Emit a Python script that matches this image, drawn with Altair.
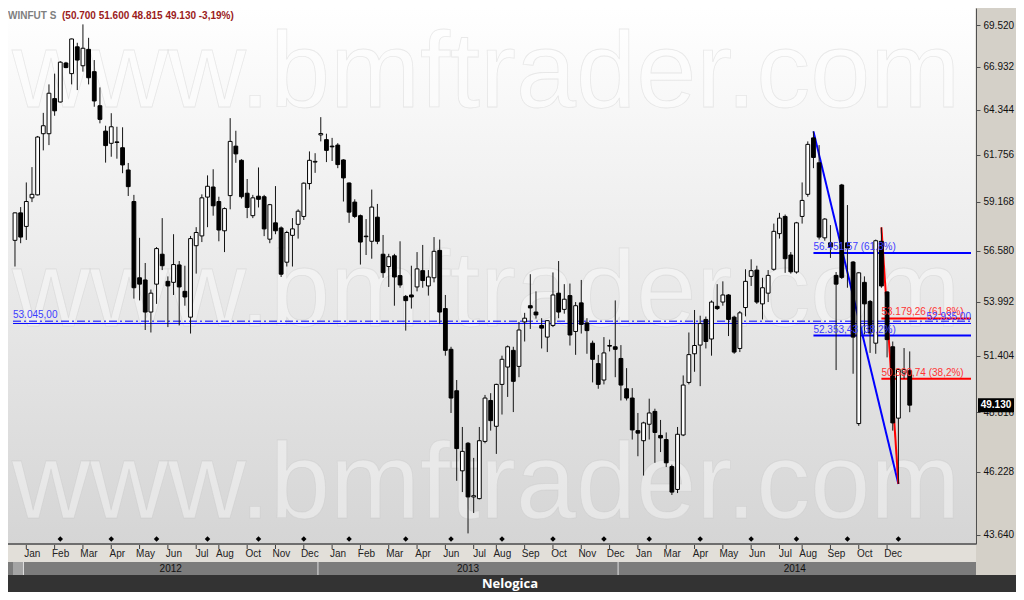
import altair as alt
import pandas as pd

# ---------------- weekly candles (WINFUT, points) ----------------
opens = [57110, 58560, 57840, 59370, 59530, 62950, 62950, 65000, 64800, 67150,
         66500, 68150, 66980, 67990, 66620, 64580, 63100, 62400, 62480, 62150,
         60900, 59170, 55190, 55080, 53490, 54870, 56390, 55010, 54960, 55840,
         54510, 53240, 56830, 57340, 59410, 59960, 59170, 57610, 59490, 62240,
         61440, 59620, 58410, 59460, 59430, 57170, 58030, 57760, 55980, 57370,
         57950, 58370, 60150, 61340, 62880, 62610, 62240, 62300, 61460, 60180,
         59140, 58410, 57330, 57060, 58330, 56390, 55760, 56310, 55300, 54260,
         54330, 54730, 55550, 54780, 55190, 56590, 53660, 51700, 49780, 46270,
         47450, 45180, 45110, 47530, 49340, 48190, 50070, 50870, 51650, 50900,
         53010, 53800, 53490, 52840, 52280, 52840, 54420, 53620, 54300, 52550,
         53940, 52960, 51990, 51030, 50270, 51880, 51820, 51270, 49870, 49450,
         48000, 47560, 48280, 48850, 47790, 47610, 46450, 45490, 47810, 50160,
         51490, 51900, 53130, 52190, 53770, 53980, 54330, 53240, 51740, 53710,
         55260, 55580, 53890, 54420, 55620, 57460, 58370, 56350, 55480, 58370,
         59560, 62710, 61300, 57240, 56980, 55310, 60070, 56980, 55990, 48310,
         54960, 54010, 51990, 57060, 54480, 51820, 48550, 50590, 50700]
highs = [58580, 58870, 60210, 61060, 62820, 64160, 65850, 66500, 67260, 67220,
         68660, 68400, 69560, 68710, 67330, 65670, 63410, 64140, 63350, 63320,
         61290, 59530, 57240, 55940, 54600, 56760, 58280, 55260, 57430, 56040,
         55800, 57340, 57800, 59560, 60600, 60940, 59430, 58850, 63850, 63120,
         61500, 60400, 59530, 61040, 59530, 59040, 60010, 57840, 57610, 58280,
         58750, 60210, 61940, 61840, 63910, 62950, 62710, 62410, 61500, 60210,
         59290, 58470, 58230, 59820, 59040, 57390, 56410, 56410, 57060, 54330,
         55800, 56500, 56870, 55580, 57280, 57150, 54330, 51820, 50270, 48160,
         47500, 46820, 48160, 49590, 49670, 50100, 51400, 51880, 51820, 53010,
         53450, 55370, 54510, 53190, 53100, 55460, 56040, 54870, 54900, 53980,
         55080, 53190, 52110, 51440, 52280, 52160, 54060, 51900, 50820, 49900,
         48780, 48390, 49420, 48970, 48470, 47920, 46530, 48160, 50480, 52500,
         53590, 53310, 53270, 54060, 54870, 55010, 54370, 53310, 53540, 55620,
         56130, 55800, 55190, 55580, 57990, 58560, 58470, 56500, 58080, 60210,
         62510, 63085, 62300, 58280, 57910, 55480, 60130, 58980, 56040, 55480,
         55260, 54080, 57150, 57790, 54510, 52070, 50780, 51760, 51600]
lows = [55760, 56960, 57130, 59140, 59500, 62000, 62300, 63990, 64770, 66830,
        65850, 65510, 66620, 65850, 64520, 63550, 61310, 61640, 61530, 60720,
        59470, 54150, 54060, 52620, 52500, 53890, 55580, 52760, 54330, 52840,
        53800, 52450, 55400, 57020, 57800, 58410, 57060, 56500, 58750, 61300,
        59330, 58280, 58280, 58850, 57330, 56960, 57430, 55230, 55760, 55760,
        57200, 58180, 59820, 60740, 62510, 61340, 61400, 61000, 59170, 58030,
        58280, 55860, 56350, 56160, 56910, 55190, 54730, 53800, 54690, 52590,
        53660, 54510, 54690, 54300, 54960, 52930, 51400, 48780, 45850, 45380,
        43700, 44520, 45080, 47450, 48000, 46990, 48710, 49500, 48820, 50400,
        52070, 52670, 53170, 51740, 51570, 52760, 53190, 53410, 51880, 51440,
        52450, 51490, 50160, 49870, 50070, 51600, 50400, 49340, 49340, 47610,
        46890, 46070, 47610, 46610, 47070, 46430, 45260, 45340, 47760, 50070,
        50650, 49990, 51740, 51400, 53590, 53800, 52330, 51490, 51570, 53280,
        54780, 53890, 53130, 53980, 55550, 57200, 55440, 55400, 55400, 57990,
        59430, 61000, 57150, 57090, 56200, 50730, 55130, 54690, 50560, 48210,
        52410, 51530, 51490, 54690, 51320, 48000, 45720, 50320, 48815]
closes = [58560, 57280, 59170, 59560, 62760, 63410, 65320, 64280, 67200, 66870,
          68640, 67330, 68060, 66250, 64860, 63780, 62270, 63350, 62450, 61180,
          59980, 54690, 54870, 53490, 54420, 56680, 55800, 54780, 55860, 54730,
          54230, 57200, 57520, 59370, 60000, 58940, 57650, 58790, 62510, 61800,
          59430, 58850, 59370, 59290, 57710, 59000, 57610, 55370, 57520, 57710,
          58650, 60170, 61440, 61380, 62960, 62000, 62200, 61200, 60460, 58600,
          58370, 57020, 57300, 58870, 57060, 55450, 56260, 55230, 54830, 54050,
          54230, 55640, 55050, 55230, 56540, 53490, 51650, 49450, 47220, 47100,
          45180, 45230, 47560, 49450, 48440, 50070, 51230, 51820, 50210, 52620,
          53190, 53690, 53350, 52710, 53070, 54330, 53490, 54120, 52380, 53800,
          52890, 52590, 51230, 50070, 51530, 51850, 51700, 50040, 49450, 48030,
          47890, 48340, 48780, 47920, 47680, 46610, 45380, 47840, 50040, 51450,
          51880, 52930, 52070, 53980, 53660, 54330, 53130, 51570, 53450, 55010,
          55550, 53980, 54690, 55310, 57580, 58280, 56160, 55490, 58030, 59230,
          62340, 61600, 57280, 58230, 56770, 54870, 55210, 56710, 52280, 55440,
          53890, 52480, 57090, 54780, 52160, 48340, 50760, 50750, 49130]

# ---------------- axes / annotations ----------------
price_ticks = [43640, 46228, 48816, 51404, 53992, 56580, 59168, 61756, 64344, 66932, 69520]
month_tick_idx = [2, 7, 12, 17, 22, 27, 32, 36, 41, 46, 51, 56, 61, 66, 71, 76,
                  81, 85, 90, 95, 100, 105, 110, 115, 120, 125, 130, 135, 139, 144, 149, 154]
month_names = ["Jan", "Feb", "Mar", "Apr", "May", "Jun", "Jul", "Aug", "Oct", "Nov", "Dec",
               "Jan", "Feb", "Mar", "Apr", "Jun", "Jul", "Aug", "Sep", "Oct", "Nov", "Dec",
               "Jan", "Mar", "Apr", "May", "Jun", "Jul", "Aug", "Sep", "Oct", "Dec"]
year_div_idx = [1.5, 53.5, 106.5]
year_names = ["2012", "2013", "2014"]
year_center_idx = [27.5, 80.0, 137.7]
expiry_idx = [8, 17, 25, 34, 43, 51, 59, 69, 77, 86, 95, 104, 112, 121, 130, 138, 147, 156]

hline_prices = [53045.00, 52935.00]
hline_texts = ["53.045,00", "52.935,00"]
fib_levels = [56451.57, 52353.43, 53179.26, 50330.74]
fib_start_idx = [141, 141, 153, 153]
fib_colors = ["#0000ff", "#0000ff", "#ff0000", "#ff0000"]
fib_text_colors = ["#3c3cff", "#3c3cff", "#ff3434", "#ff3434"]
fib_texts = ["56.451,57 (61,8%)", "52.353,43 (38,2%)", "53.179,26 (61,8%)", "50.330,74 (38,2%)"]
trend_from_idx = [141, 153]
trend_from_price = [63085, 57790]
trend_to_idx = [156, 156]
trend_to_price = [45720, 45720]
trend_colors = ["#0000ff", "#ff0000"]
last_price = 49130
last_text = "49.130"

# ---------------- layout ----------------
W, H = 968, 584
PLOT_H = 536
X_DOM = [-0.35, 168.82]
Y_DOM = [43279, 70608]
FONT = "Liberation Sans"

xs = alt.Scale(domain=X_DOM, nice=False, zero=False)
ys = alt.Scale(type="log", domain=Y_DOM, range=[PLOT_H, 0], nice=False)
yaxis = alt.Axis(orient="right", values=price_ticks,
                 labelExpr="replace(format(datum.value, ',.0f'), ',', '.')",
                 title=None, grid=False, tickSize=4, labelPadding=3,
                 domainColor="#505050", tickColor="#505050", labelColor="#111111",
                 labelFontSize=10, labelFont=FONT, labelOverlap=False, zindex=0)


def X(f):
    return alt.X(f, type="quantitative", scale=xs, axis=None)


def Y(f):
    return alt.Y(f, type="quantitative", scale=ys, axis=yaxis)


one = pd.DataFrame({"k": [0]})


def box(x0, x1, y0, y1, fill):
    return alt.Chart(one).mark_rect(fill=fill).encode(
        x=alt.value(x0), x2=alt.value(x1), y=alt.value(y0), y2=alt.value(y1))


df = pd.DataFrame({"i": list(range(len(opens))), "open": opens, "high": highs,
                   "low": lows, "close": closes})
months = pd.DataFrame({"i": month_tick_idx, "m": month_names})
years = pd.DataFrame({"i": year_center_idx, "y": year_names})
ydiv = pd.DataFrame({"i": year_div_idx})
yfirst = pd.DataFrame({"a": [X_DOM[0]], "b": [year_div_idx[0]]})
expiry = pd.DataFrame({"i": expiry_idx})
hl = pd.DataFrame({"p": hline_prices, "t": hline_texts,
                   "a": [X_DOM[0], X_DOM[0]], "b": [X_DOM[1], X_DOM[1]]})
fib = pd.DataFrame({"i": fib_start_idx, "e": [X_DOM[1]] * 4, "p": fib_levels,
                    "c": fib_colors, "tc": fib_text_colors, "t": fib_texts})
trend = pd.DataFrame({"i1": trend_from_idx, "p1": trend_from_price,
                      "i2": trend_to_idx, "p2": trend_to_price, "c": trend_colors})
lastp = pd.DataFrame({"p": [last_price], "t": [last_text]})

gradient = {"gradient": "linear", "x1": 0, "x2": 0, "y1": 0, "y2": 1,
            "stops": [{"offset": 0, "color": "#ffffff"}, {"offset": 1, "color": "#d5d5d5"}]}

layers = []
layers.append(box(0, W - 0.5, 0, PLOT_H, gradient))
layers.append(box(0, W, PLOT_H, 554, "#e2dfd9"))
layers.append(box(0, W, PLOT_H - 1, PLOT_H + 1, "#6e6e6e"))
layers.append(box(0, W, 554, 567, "#7c7c7c"))
layers.append(alt.Chart(yfirst).mark_rect(fill="#a4a4a4").encode(
    x=X("a"), x2=alt.X2("b"), y=alt.value(554), y2=alt.value(567)))
layers.append(alt.Chart(ydiv).mark_rule(color="#e0e0e0", strokeWidth=1).encode(
    x=X("i"), y=alt.value(554), y2=alt.value(567)))
layers.append(alt.Chart(years).mark_text(font=FONT, fontSize=10, color="#111111",
                                          baseline="middle").encode(
    x=X("i"), y=alt.value(561), text="y:N"))
layers.append(box(0, W + 40, 567, H, "#333333"))

# faint watermark
for wy in [99, 318, 510]:
    layers.append(alt.Chart(one).mark_text(
        text="www.bmftrader.com", font=FONT, fontSize=108, align="left",
        baseline="alphabetic", fill="#ffffff", fillOpacity=0.38, stroke="#bcbcbc",
        strokeOpacity=0.3, strokeWidth=0.8).encode(x=alt.value(4), y=alt.value(wy)))

# month ticks & labels
layers.append(alt.Chart(months).mark_rule(color="#404040").encode(
    x=X("i"), y=alt.value(PLOT_H + 1), y2=alt.value(PLOT_H + 5)))
layers.append(alt.Chart(months).mark_text(font=FONT, fontSize=10, color="#222222",
                                           baseline="middle", dx=6).encode(
    x=X("i"), y=alt.value(546), text="m:N"))
layers.append(alt.Chart(expiry).mark_point(shape="diamond", filled=True, color="#000000",
                                            size=30, opacity=1).encode(
    x=X("i"), y=alt.value(531)))

# horizontal reference lines
layers.append(alt.Chart(hl.iloc[[0]]).mark_rule(color="#0000ff", strokeWidth=1,
                                                 strokeDash=[8, 3, 2, 3]).encode(
    x=X("a"), x2=alt.X2("b"), y=Y("p")))
layers.append(alt.Chart(hl.iloc[[1]]).mark_rule(color="#0000ff", strokeWidth=1).encode(
    x=X("a"), x2=alt.X2("b"), y=Y("p")))
layers.append(alt.Chart(fib).mark_rule(strokeWidth=2).encode(
    x=X("i"), x2=alt.X2("e"), y=Y("p"), color=alt.Color("c:N", scale=None)))
layers.append(alt.Chart(trend).mark_rule(strokeWidth=2).encode(
    x=X("i1"), x2=alt.X2("i2"), y=Y("p1"), y2=alt.Y2("p2"),
    color=alt.Color("c:N", scale=None)))

# candles
base = alt.Chart(df)
layers.append(base.mark_rule(color="#151515", strokeWidth=1).encode(
    x=X("i"), y=Y("low"), y2=alt.Y2("high")))
layers.append(base.mark_bar(size=3.8, stroke="#000000", strokeWidth=1).encode(
    x=X("i"), y=Y("open"), y2=alt.Y2("close"),
    fill=alt.condition("datum.close >= datum.open", alt.value("#ffffff"), alt.value("#000000"))))

# line labels
layers.append(alt.Chart(fib).mark_text(font=FONT, fontSize=10, align="left",
                                        baseline="bottom", dy=-1).encode(
    x=X("i"), y=Y("p"), text="t:N", color=alt.Color("tc:N", scale=None)))
layers.append(alt.Chart(hl.iloc[[0]]).mark_text(font=FONT, fontSize=10, align="left",
                                                 baseline="bottom", dy=-1,
                                                 color="#3c3cff").encode(
    x=X("a"), y=Y("p"), text="t:N"))
layers.append(alt.Chart(hl.iloc[[1]]).mark_text(font=FONT, fontSize=10, align="right",
                                                 baseline="bottom", dy=-1,
                                                 color="#3c3cff").encode(
    x=X("b"), y=Y("p"), text="t:N"))

# title
layers.append(alt.Chart(one).mark_text(text="WINFUT S", font=FONT, fontSize=10,
                                        fontWeight="bold", color="#7f7f7f",
                                        align="left", baseline="alphabetic").encode(
    x=alt.value(0), y=alt.value(11)))
layers.append(alt.Chart(one).mark_text(text="(50.700  51.600  48.815  49.130  -3,19%)",
                                        font=FONT, fontSize=10, fontWeight="bold",
                                        color="#9b1b1b", align="left",
                                        baseline="alphabetic").encode(
    x=alt.value(54), y=alt.value(11)))

# last price tag on the axis
layers.append(alt.Chart(lastp).mark_point(
    shape="M-1,-0.39L1,-0.39L1,0.39L-1,0.39Z", filled=True, color="#000000",
    size=1296, opacity=1).encode(x=alt.value(988), y=Y("p")))
layers.append(alt.Chart(lastp).mark_text(font=FONT, fontSize=10, fontWeight="bold",
                                          color="#ffffff", align="center",
                                          baseline="middle").encode(
    x=alt.value(988), y=Y("p"), text="t:N"))

# footer logo
layers.append(alt.Chart(one).mark_text(text="Nelogica", font="Open Sans", fontSize=13,
                                        fontWeight="bold", color="#ffffff",
                                        baseline="middle").encode(
    x=alt.value(502), y=alt.value(576)))

chart = alt.layer(*layers).properties(
    width=W, height=H,
    padding={"left": 0, "top": 0, "right": 40, "bottom": 0},
    autosize=alt.AutoSizeParams(type="none"),
    background="#d4d0c8",
).configure_view(stroke=None).configure_axis(grid=False)

chart.save("out.html", embed_options={"renderer": "svg", "actions": False})
